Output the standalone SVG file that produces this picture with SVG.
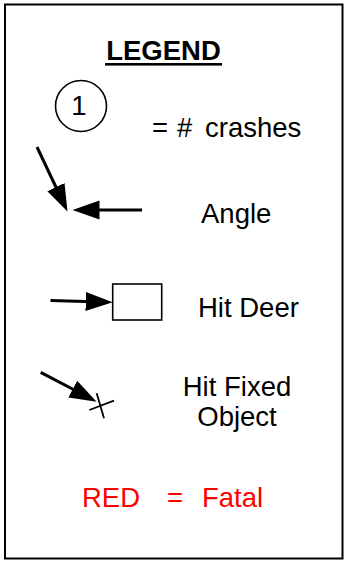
<svg xmlns="http://www.w3.org/2000/svg" width="344" height="561" viewBox="0 0 344 561">
  <style>
    .frame { fill: #ffffff; stroke: #000000; stroke-width: 2; }
    .title { font-family: "Liberation Sans", Arial, sans-serif; font-weight: bold; font-size: 27.5px; fill: #000000; }
    .label { font-family: "Liberation Sans", Arial, sans-serif; font-size: 27.5px; fill: #000000; }
    .fatal { font-family: "Liberation Sans", Arial, sans-serif; font-size: 27.5px; fill: #ff0000; }
    .shape { fill: #ffffff; stroke: #000000; stroke-width: 1.6; }
    .arrow { stroke: #000000; stroke-width: 3; fill: none; marker-end: url(#head); }
    .cross { stroke: #000000; stroke-width: 1.8; fill: none; }
  </style>
  <defs>
    <marker id="head" markerUnits="userSpaceOnUse" markerWidth="28" markerHeight="20" refX="17" refY="10" orient="auto">
      <path d="M0,0.5 L27,10 L0,19.5 z" fill="#000000"/>
    </marker>
  </defs>

  <!-- outer frame -->
  <rect class="frame" x="5" y="4.5" width="337.5" height="554"/>

  <g id="title">
    <text class="title" x="163.5" y="60" text-anchor="middle">LEGEND</text>
    <rect x="105" y="63" width="117" height="2.6" fill="#000000"/>
  </g>

  <g id="crash-count">
    <circle class="shape" cx="81" cy="106" r="25.5"/>
    <text class="label" x="79" y="115" text-anchor="middle">1</text>
    <text class="label" y="137"><tspan x="152">=</tspan><tspan x="177">#</tspan><tspan x="205">crashes</tspan></text>
  </g>

  <g id="angle">
    <text class="label" x="201" y="223">Angle</text>
  </g>

  <g id="hit-deer">
    <rect class="shape" x="112.7" y="284" width="49" height="36"/>
    <text class="label" x="198" y="317">Hit Deer</text>
  </g>

  <g id="hit-fixed-object">
    <path class="cross" d="M89.3,410 L114,400.7 M96.7,393.3 L104,418.3"/>
    <text class="label" x="237" y="396" text-anchor="middle">Hit Fixed</text>
    <text class="label" x="237" y="426" text-anchor="middle">Object</text>
  </g>

  <g id="fatal">
    <text class="fatal" y="507"><tspan x="82">RED</tspan><tspan x="167">=</tspan><tspan x="202">Fatal</tspan></text>
  </g>

  <g id="connectors">
    <line class="arrow" x1="37" y1="147" x2="63.2" y2="202.5"/>
    <line class="arrow" x1="142" y1="210" x2="82.5" y2="210"/>
    <line class="arrow" x1="50.5" y1="300.5" x2="102.7" y2="302"/>
    <line class="arrow" x1="40.7" y1="372.3" x2="87.8" y2="397"/>
  </g>
</svg>
